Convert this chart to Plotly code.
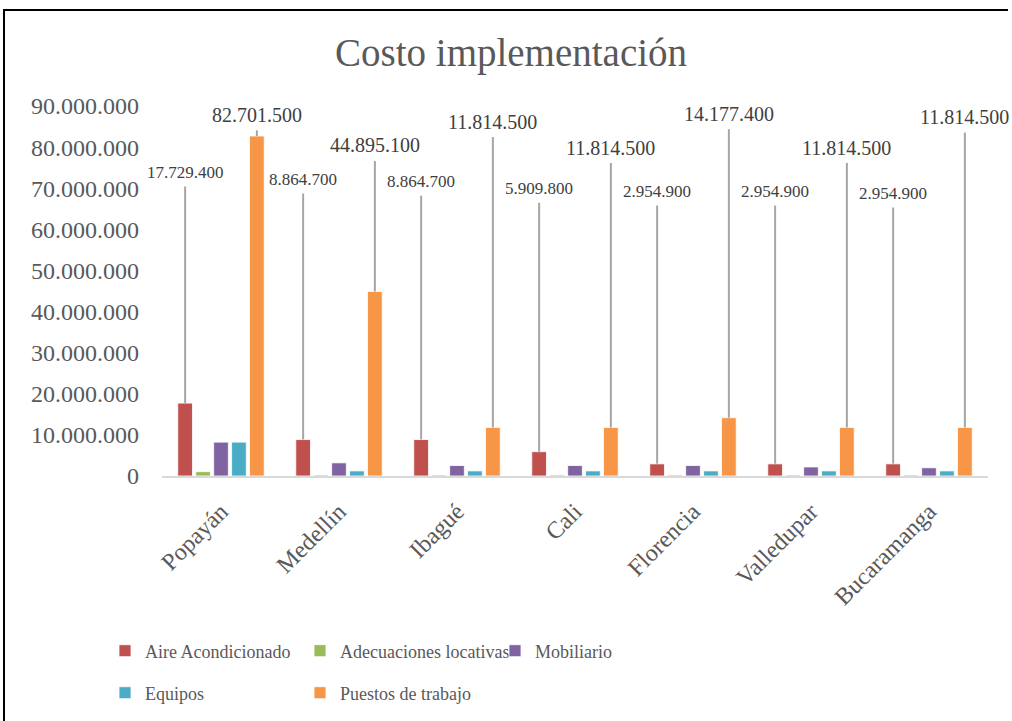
import plotly.graph_objects as go

# ---- data -------------------------------------------------------------
ciudades = ["Popayán", "Medellín", "Ibagué", "Cali", "Florencia", "Valledupar", "Bucaramanga"]

aire_acondicionado = [17729400, 8864700, 8864700, 5909800, 2954900, 2954900, 2954900]
adecuaciones_locativas = [1060000, 250000, 250000, 250000, 250000, 250000, 250000]
mobiliario = [8240000, 3200000, 2550000, 2550000, 2550000, 2200000, 2000000]
equipos = [8240000, 1240000, 1240000, 1240000, 1240000, 1240000, 1240000]
puestos_de_trabajo = [82701500, 44895100, 11814500, 11814500, 14177400, 11814500, 11814500]

# heights (axis units) where the value callouts sit
altura_etiqueta_aire = [73.8e6, 72.1e6, 71.6e6, 69.9e6, 69.2e6, 69.2e6, 68.7e6]
altura_etiqueta_puestos = [87.9e6, 80.4e6, 86.2e6, 79.9e6, 88.1e6, 79.9e6, 87.3e6]

series = [
    ("Aire Acondicionado", aire_acondicionado, "#C0504D", "legend"),
    ("Adecuaciones locativas", adecuaciones_locativas, "#9BBB59", "legend"),
    ("Mobiliario", mobiliario, "#8064A2", "legend"),
    ("Equipos", equipos, "#4BACC6", "legend2"),
    ("Puestos de trabajo", puestos_de_trabajo, "#F79646", "legend2"),
]

# ---- layout geometry --------------------------------------------------
W, H = 1012, 721
M_L, M_R, M_T, M_B = 162, 24, 106, 245
PW, PH = W - M_L - M_R, H - M_T - M_B
BARGAP = 0.24
SERIF = "Liberation Serif, Times New Roman, serif"
GRIS = "#595959"


def px_x(p):
    return (p - M_L) / PW


def px_y(p):
    return (H - M_B - p) / PH


fig = go.Figure()
for nombre, valores, color, leyenda in series:
    fig.add_trace(go.Bar(
        name=nombre, x=ciudades, y=valores,
        marker=dict(color=color, line=dict(color="rgba(255,255,255,0.8)", width=1)),
        legend=leyenda,
    ))

# value callouts with leader lines to the top of the bar
n_series = len(series)
ancho_slot = (1 - BARGAP) / n_series


def desplazamiento(j):
    return -(1 - BARGAP) / 2 + (j + 0.5) * ancho_slot


anotaciones = []
for j, valores, alturas, tam in [(0, aire_acondicionado, altura_etiqueta_aire, 17),
                                 (4, puestos_de_trabajo, altura_etiqueta_puestos, 20)]:
    for i, (v, h) in enumerate(zip(valores, alturas)):
        xpos = i + desplazamiento(j)
        anotaciones.append(dict(
            x=xpos, y=v, xref="x", yref="y",
            ax=xpos, ay=h, axref="x", ayref="y",
            text=f"{v:,}".replace(",", "."),
            showarrow=True, arrowhead=0, arrowwidth=2, arrowcolor="#A6A6A6",
            standoff=0, startstandoff=3,
            font=dict(family=SERIF, size=tam, color="#404040"),
        ))

leyenda_comun = dict(orientation="h", x=px_x(105), xanchor="left", yanchor="middle",
                     entrywidth=150, font=dict(family=SERIF, size=18, color=GRIS),
                     bgcolor="rgba(0,0,0,0)", traceorder="normal")

fig.update_layout(
    width=W, height=H,
    margin=dict(l=M_L, r=M_R, t=M_T, b=M_B, autoexpand=False),
    paper_bgcolor="white", plot_bgcolor="white",
    separators=",.",
    barmode="group", bargap=BARGAP, bargroupgap=0.18,
    title=dict(text="Costo implementación", x=0.505, xref="container", xanchor="center",
               y=1 - 52 / H, yref="container", yanchor="middle",
               font=dict(family=SERIF, size=39, color=GRIS)),
    font=dict(family=SERIF, color=GRIS),
    xaxis=dict(
        type="category", range=[-0.5, len(ciudades) - 0.5],
        showline=True, linecolor="#D9D9D9", linewidth=2,
        showgrid=False, ticks="", tickangle=-45, ticklabelstandoff=10,
        automargin=False,
        tickfont=dict(family=SERIF, size=24, color=GRIS),
    ),
    yaxis=dict(
        range=[0, 90e6], dtick=10e6, tickformat=",d", showgrid=False,
        showline=False, zeroline=False, ticks="", ticklabelstandoff=22,
        automargin=False,
        tickfont=dict(family=SERIF, size=24, color=GRIS),
    ),
    legend=dict(leyenda_comun, y=px_y(651)),
    legend2=dict(leyenda_comun, y=px_y(693)),
    annotations=anotaciones,
    shapes=[
        dict(type="line", xref="paper", yref="paper", x0=px_x(4), x1=px_x(4),
             y0=px_y(9), y1=px_y(H + 5), line=dict(color="#000000", width=2)),
        dict(type="line", xref="paper", yref="paper", x0=px_x(4), x1=px_x(1008),
             y0=px_y(10), y1=px_y(10), line=dict(color="#000000", width=2)),
    ],
)

fig.write_html("out.html")
